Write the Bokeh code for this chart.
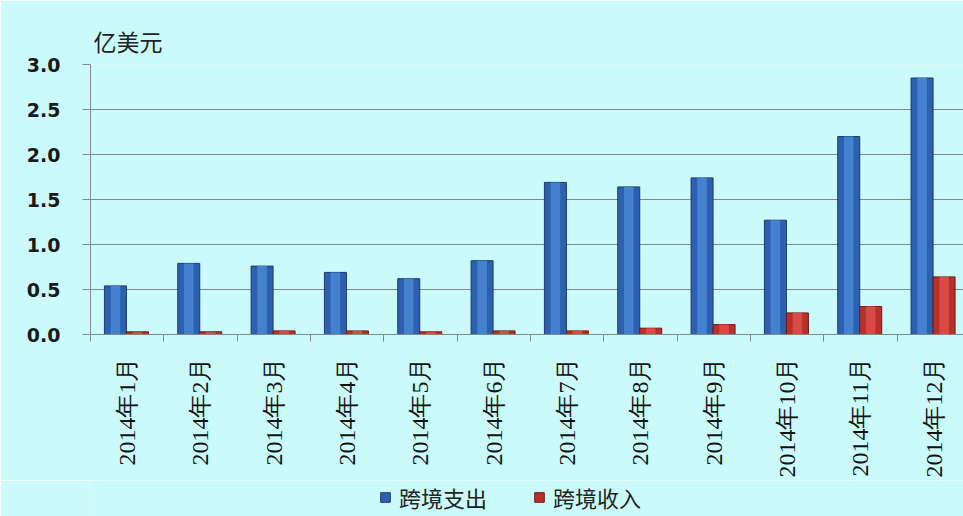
import math
from bokeh.plotting import figure
from bokeh.layouts import column
from bokeh.models import Range1d, FixedTicker, Legend, LegendItem
from bokeh.embed import file_html
from bokeh.resources import INLINE

categories = ["2014年1月", "2014年2月", "2014年3月", "2014年4月", "2014年5月", "2014年6月",
              "2014年7月", "2014年8月", "2014年9月", "2014年10月", "2014年11月", "2014年12月"]
outflow = [0.54, 0.79, 0.76, 0.69, 0.62, 0.82, 1.69, 1.64, 1.74, 1.27, 2.20, 2.85]
inflow = [0.03, 0.03, 0.04, 0.04, 0.03, 0.04, 0.04, 0.07, 0.11, 0.24, 0.31, 0.64]
y_ticks = [0.0, 0.5, 1.0, 1.5, 2.0, 2.5, 3.0]
series_names = ["跨境支出", "跨境收入"]
unit_label = "亿美元"

BG = "#cafafa"
BLUE, BLUE_HI, BLUE_EDGE = "#2d61b0", "#4482d0", "#1a3a70"
RED, RED_HI, RED_EDGE = "#b8302c", "#d84a44", "#6e1a18"
n = len(categories)
centers = [i + 0.5 for i in range(n)]
bounds = [float(i) for i in range(n + 1)]
x_out = [c - 0.16 for c in centers]
x_in = [c + 0.14 for c in centers]

fig = figure(width=963, height=480, output_backend="svg", toolbar_location=None,
             x_range=Range1d(0, 11.905), y_range=Range1d(0, 3.0),
             min_border_left=90, min_border_right=0, min_border_top=64, min_border_bottom=145)
fig.background_fill_color = BG
fig.border_fill_color = BG
fig.outline_line_color = None

fig.title.text = unit_label
fig.title.align = "left"
fig.title.offset = 3
fig.title.standoff = 14
fig.title.text_font = "Noto Sans CJK SC"
fig.title.text_font_size = "23px"
fig.title.text_font_style = "normal"
fig.title.text_color = "#222222"

bw = 0.3
fig.vbar(x=x_out, top=outflow, width=bw, fill_color=BLUE, line_color=BLUE_EDGE, line_width=1)
fig.vbar(x=x_out, top=outflow, width=0.13, fill_color=BLUE_HI, line_color=None)
fig.vbar(x=x_in, top=inflow, width=bw, fill_color=RED, line_color=RED_EDGE, line_width=1)
fig.vbar(x=x_in, top=inflow, width=0.13, fill_color=RED_HI, line_color=None)

# x axis
xa = fig.xaxis[0]
xa.ticker = FixedTicker(ticks=centers, minor_ticks=bounds)
xa.major_label_overrides = {c: lab for c, lab in zip(centers, categories)}
xa.major_label_orientation = math.pi / 2
xa.major_tick_out = 0
xa.major_tick_in = 0
xa.minor_tick_out = 7
xa.minor_tick_in = 0
xa.minor_tick_line_color = "#7f8a8a"
xa.axis_line_color = "#7f8a8a"
xa.major_label_standoff = 16
xa.major_label_text_font = "Liberation Serif"
xa.major_label_text_font_size = "24px"
xa.major_label_text_color = "#111111"

# y axis
ya = fig.yaxis[0]
ya.ticker = FixedTicker(ticks=y_ticks)
ya.major_label_overrides = {t: f"{t:.1f}" for t in y_ticks}
ya.major_tick_out = 8
ya.major_tick_in = 0
ya.minor_tick_line_color = None
ya.major_tick_line_color = "#7f8a8a"
ya.axis_line_color = "#7f8a8a"
ya.major_label_standoff = 22
ya.major_label_text_font = "DejaVu Sans"
ya.major_label_text_font_size = "19px"
ya.major_label_text_font_style = "bold"
ya.major_label_text_color = "#1a1a1a"

fig.xgrid.grid_line_color = None
fig.ygrid.grid_line_color = "#7f8a8a"
fig.ygrid.grid_line_width = 1
fig.ygrid.ticker = FixedTicker(ticks=y_ticks)

# legend strip below the chart (series drawn out of view; only the legend shows)
leg = figure(width=963, height=36, output_backend="svg", toolbar_location=None,
             x_range=Range1d(0, 11.905), y_range=Range1d(10, 11),
             min_border=0, x_axis_location=None, y_axis_location=None)
leg.background_fill_color = BG
leg.border_fill_color = BG
leg.outline_line_color = None
leg.grid.visible = False
lr1 = leg.vbar(x=x_out, top=outflow, width=bw, fill_color=BLUE, line_color=BLUE_EDGE)
lr2 = leg.vbar(x=x_in, top=inflow, width=bw, fill_color=RED, line_color=RED_EDGE)
legend = Legend(items=[LegendItem(label=series_names[0], renderers=[lr1]),
                       LegendItem(label=series_names[1], renderers=[lr2])],
                orientation="horizontal", location=(289, 3),
                padding=0, margin=0, spacing=46, glyph_width=12, glyph_height=12,
                label_standoff=8, label_text_font="Noto Sans CJK SC",
                label_text_font_size="22px", label_text_color="#222222",
                background_fill_alpha=0, border_line_alpha=0)
leg.add_layout(legend)

p = column(fig, leg, spacing=0)
open("out.html", "w").write(file_html(p, INLINE))
